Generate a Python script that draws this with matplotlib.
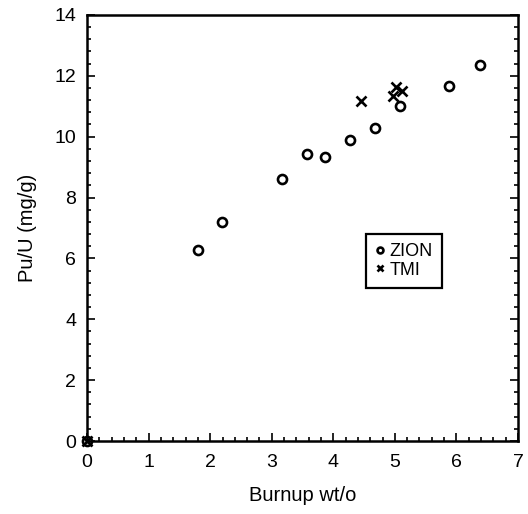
import matplotlib
matplotlib.use("Agg")
import matplotlib.pyplot as plt
from matplotlib.ticker import MultipleLocator

plt.rcParams['font.family'] = ['Liberation Sans', 'DejaVu Sans']

# Pu/U ratio vs burnup
zion_burnup = [0.0, 1.80, 2.19, 3.17, 3.57, 3.87, 4.27, 4.68, 5.08, 5.88, 6.38]
zion_pu_u = [0.0, 6.28, 7.21, 8.61, 9.44, 9.32, 9.88, 10.30, 11.00, 11.65, 12.34]
tmi_burnup = [0.0, 4.45, 5.02, 5.11, 4.97]
tmi_pu_u = [0.0, 11.17, 11.62, 11.49, 11.33]

fig = plt.figure(figsize=(5.28, 5.14), dpi=100)
ax = fig.add_axes([0.165, 0.142, 0.816, 0.829])

ax.plot(zion_burnup, zion_pu_u, linestyle='None', marker='o', markersize=6.5,
        markerfacecolor='white', markeredgecolor='black', markeredgewidth=1.9,
        label='ZION', clip_on=False)
ax.plot(tmi_burnup, tmi_pu_u, linestyle='None', marker='x', markersize=7.5,
        color='black', markeredgewidth=1.9, label='TMI', clip_on=False)

ax.set_xlim(0, 7)
ax.set_ylim(0, 14)
ax.xaxis.set_major_locator(MultipleLocator(1))
ax.xaxis.set_minor_locator(MultipleLocator(0.2))
ax.yaxis.set_major_locator(MultipleLocator(2))
ax.yaxis.set_minor_locator(MultipleLocator(0.4))
ax.tick_params(which='both', direction='in', top=False, right=True, width=1.2)
ax.tick_params(which='major', length=6, labelsize=14)
ax.tick_params(axis='x', which='major', pad=9)
ax.tick_params(axis='y', which='major', pad=8)
ax.tick_params(which='minor', length=3)
for s in ax.spines.values():
    s.set_linewidth(1.8)

ax.set_xlabel('Burnup wt/o', fontsize=14.5, labelpad=11)
ax.set_ylabel('Pu/U (mg/g)', fontsize=14.5, labelpad=12)

leg = ax.legend(loc='upper left', bbox_to_anchor=(0.647, 0.486), fontsize=13,
                handletextpad=0.2, handlelength=0.6, borderpad=0.5,
                labelspacing=0.1, markerscale=0.65, fancybox=False, framealpha=1,
                edgecolor='black', borderaxespad=0)
leg.get_frame().set_linewidth(1.6)

fig.savefig('out.png', dpi=100)
